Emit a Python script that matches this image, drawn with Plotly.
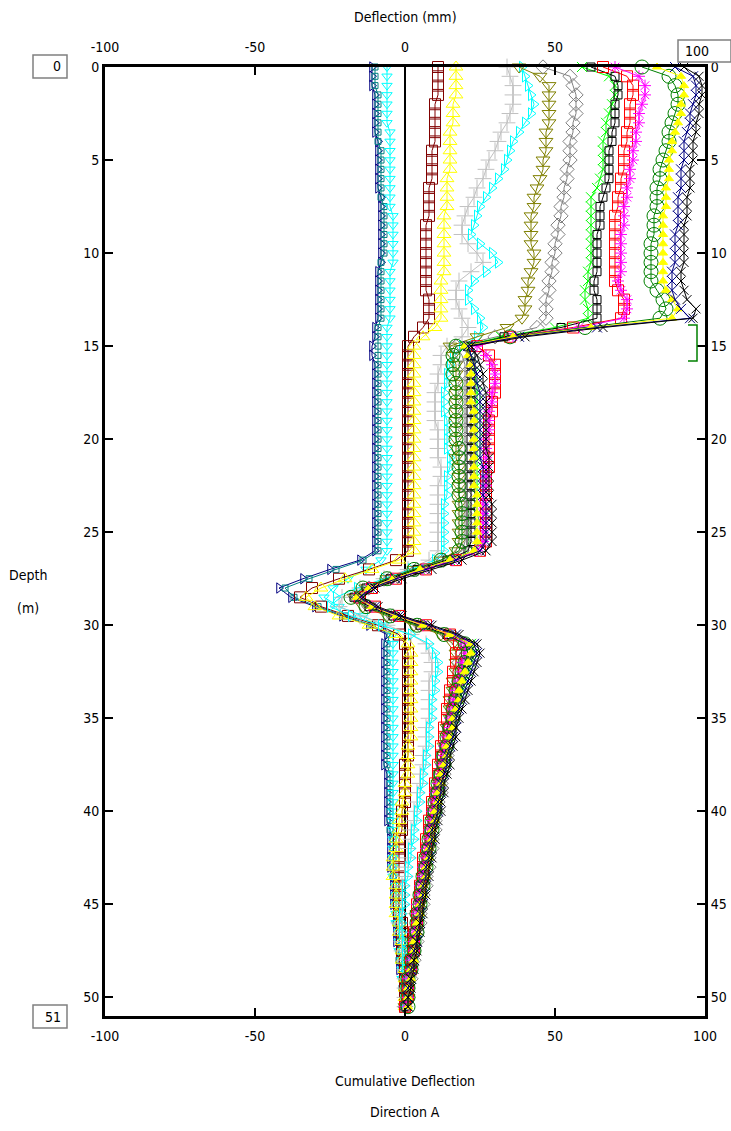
import plotly.graph_objects as go

# Depth stations (m), 0.5 m spacing from the collar down to 50.5 m
DEPTH = [i * 0.5 for i in range(102)]

# Cumulative deflection (mm) per survey, one value per depth station
NAVY_TRI = [-11,-11,-11,-10,-10,-10,-10,-10,-9,-9,
            -9,-9,-9,-9,-8,-8,-8,-8,-8,-8,
            -8,-8,-9,-9,-9,-9,-9,-9,-10,-10,
            -11,-11,-10,-10,-10,-10,-10,-10,-10,-10,
            -10,-10,-10,-10,-10,-10,-10,-10,-10,-10,
            -10,-10,-10,-15,-25,-34,-42,-38,-30,-21,
            -12,-6,-7,-7,-7,-7,-7,-7,-7,-7,
            -7,-7,-7,-7,-7,-7,-6,-6,-6,-6,
            -6,-6,-5,-5,-5,-5,-5,-4,-4,-4,
            -4,-3,-3,-3,-3,-2,-2,-2,-1,-1,
            -1,0]
TEAL_SQ = [-10,-10,-10,-9,-9,-9,-9,-9,-9,-8,
           -8,-8,-8,-8,-8,-7,-7,-7,-7,-7,
           -7,-8,-8,-8,-8,-8,-8,-8,-9,-9,
           -9,-9,-9,-9,-9,-9,-9,-9,-9,-9,
           -9,-9,-9,-9,-9,-9,-9,-9,-9,-9,
           -9,-9,-9,-14,-23,-32,-40,-37,-29,-20,
           -11,-5,-6,-6,-6,-6,-6,-6,-6,-6,
           -6,-6,-6,-6,-6,-6,-5,-5,-5,-5,
           -5,-5,-5,-4,-4,-4,-4,-4,-3,-3,
           -3,-3,-3,-2,-2,-2,-2,-1,-1,-1,
           0,0]
CYAN_L = [-6,-6,-6,-6,-6,-6,-6,-5,-5,-5,
          -5,-5,-5,-5,-5,-5,-4,-4,-4,-4,
          -4,-4,-5,-5,-5,-5,-5,-5,-6,-6,
          -6,-6,-6,-6,-6,-6,-6,-6,-6,-6,
          -6,-6,-6,-6,-6,-6,-6,-6,-6,-6,
          -6,-6,-6,-8,-13,-19,-24,-27,-22,-14,
          -7,-4,-4,-4,-4,-4,-4,-4,-4,-4,
          -4,-4,-4,-4,-4,-4,-4,-4,-4,-4,
          -4,-4,-4,-4,-4,-4,-4,-4,-3,-3,
          -3,-3,-3,-2,-2,-2,-1,-1,-1,0,
          0,0]
MAROON_SQ = [11,11,11,11,10,10,10,10,10,9,
             9,9,9,8,8,8,8,7,7,7,
             7,7,7,7,7,8,8,8,6,3,
             1,1,1,1,1,1,1,1,1,1,
             1,1,1,1,1,1,1,1,1,1,
             1,1,1,-3,-12,-22,-31,-35,-28,-19,
             -9,-2,0,1,1,1,1,1,1,1,
             1,1,1,1,1,0,0,0,0,0,
             -1,-1,-1,-2,-2,-2,-2,-2,-2,-2,
             -2,-2,-1,-1,-1,-1,0,0,0,0,
             0,0]
YELLOW_TRI = [17,17,17,17,16,16,16,15,15,15,
              15,15,14,14,14,14,13,13,13,13,
              13,13,13,12,12,12,12,12,10,6,
              3,3,3,3,3,3,3,3,3,3,
              3,3,3,3,3,3,3,3,3,3,
              3,3,3,-2,-11,-20,-28,-33,-30,-22,
              -12,-3,1,2,2,2,2,2,2,2,
              2,2,2,1,1,1,1,0,0,-1,
              -1,-2,-2,-3,-3,-4,-4,-4,-3,-3,
              -3,-3,-2,-2,-1,-1,-1,0,0,0,
              0,0]
SILVER_CROSS = [34,35,36,36,36,35,34,32,31,30,
                28,27,26,24,23,21,20,19,19,21,
                24,26,22,18,17,17,18,19,21,19,
                14,12,12,11,11,10,10,10,10,11,
                11,11,11,12,12,11,11,11,11,11,
                11,11,11,8,1,-7,-15,-21,-22,-15,
                -6,2,7,8,9,9,8,8,8,8,
                8,7,7,7,6,6,5,5,4,4,
                3,3,2,2,1,1,0,0,-1,-1,
                -1,-1,-2,-1,-1,-1,0,0,0,0,
                0,0]
CYAN_TRI = [39,40,41,42,43,42,40,38,36,35,
            34,33,31,29,27,25,24,23,22,25,
            29,31,27,23,21,21,23,25,26,24,
            19,16,15,14,14,13,13,13,14,14,
            14,14,15,15,14,14,14,13,13,13,
            13,13,13,10,2,-7,-16,-23,-25,-18,
            -8,2,8,10,11,11,10,10,9,9,
            9,8,8,8,7,7,6,6,5,5,
            4,4,3,3,2,2,1,1,0,0,
            0,-1,-1,-1,0,0,0,0,0,0,
            0,0]
OLIVE_TRI = [38,45,48,48,48,48,48,47,47,47,
             46,46,45,44,43,43,42,42,42,42,
             43,43,42,41,41,40,40,39,34,24,
             15,16,17,17,17,17,17,17,17,17,
             17,17,17,18,18,18,18,18,18,18,
             18,18,17,12,3,-6,-13,-17,-14,-6,
             3,12,16,17,17,17,16,16,15,15,
             15,14,14,13,13,12,12,11,11,10,
             10,9,9,8,8,7,7,6,6,5,
             5,4,4,3,3,3,2,2,1,1,
             1,0]
GRAY_DIA = [46,55,56,57,57,57,56,56,55,55,
            55,54,54,53,53,52,52,51,51,50,
            50,49,49,48,48,47,47,47,44,30,
            17,19,20,20,20,20,20,20,20,20,
            20,20,20,20,20,20,20,20,20,20,
            20,20,19,13,4,-5,-12,-16,-12,-4,
            5,14,18,19,18,18,18,17,17,16,
            16,15,15,14,14,13,13,12,12,11,
            11,10,10,9,9,8,8,7,7,6,
            6,5,5,4,4,3,3,2,2,1,
            1,0]
LIME_X = [59,68,70,70,69,68,67,67,66,66,
          66,66,65,64,62,62,62,62,62,62,
          62,62,61,61,60,60,61,61,50,32,
          20,22,23,23,24,24,24,24,24,24,
          24,24,24,24,24,24,24,24,24,25,
          25,25,23,15,5,-4,-12,-16,-11,-3,
          6,15,22,23,22,21,20,19,18,17,
          16,15,15,14,13,12,12,11,11,10,
          10,9,9,8,8,7,7,6,6,5,
          5,5,4,4,3,3,3,2,2,1,
          1,0]
BLACK_SQ = [62,70,71,71,70,70,70,69,69,68,
            68,68,68,67,66,65,65,65,64,64,
            64,64,64,63,63,64,64,64,52,33,
            21,22,22,22,22,22,22,22,22,22,
            22,22,22,22,22,22,22,22,22,22,
            22,22,21,14,4,-5,-13,-17,-12,-4,
            5,14,20,21,20,19,18,17,16,16,
            15,14,14,13,12,12,11,11,10,10,
            9,9,8,8,7,7,6,6,5,5,
            5,4,4,3,3,3,2,2,1,1,
            1,0]
RED_SQ = [66,74,76,76,75,75,75,74,74,73,
          73,73,72,72,71,71,70,70,70,70,
          70,70,70,70,71,73,73,72,56,35,
          24,28,30,30,30,30,29,29,28,28,
          28,28,28,28,27,27,27,27,27,27,
          27,27,25,17,7,-3,-11,-15,-10,-2,
          7,15,18,17,17,16,16,15,15,14,
          14,13,13,12,12,11,11,10,10,9,
          9,8,8,7,7,6,6,6,5,5,
          4,4,4,3,3,3,2,2,1,1,
          1,0]
MAGENTA_AST = [70,78,80,80,79,78,78,77,77,76,
               76,75,75,74,74,73,73,73,72,72,
               72,72,72,71,72,74,74,73,58,36,
               24,27,29,30,30,29,29,28,28,28,
               27,27,27,27,27,27,26,26,26,26,
               26,26,24,16,6,-4,-12,-16,-11,-3,
               6,15,20,20,19,19,18,17,16,16,
               15,15,14,13,13,12,12,11,10,10,
               9,9,8,8,7,7,6,6,5,5,
               4,4,4,3,3,3,2,2,1,1,
               1,0]
GREEN_CIR = [79,88,90,91,91,90,89,88,88,87,
             86,85,85,84,84,84,83,83,83,82,
             82,82,82,82,84,86,87,85,60,35,
             17,16,16,16,17,17,17,17,17,17,
             17,18,18,18,18,18,18,19,19,19,
             19,19,18,12,3,-6,-14,-18,-13,-5,
             4,13,20,21,20,19,18,17,17,16,
             16,15,14,14,13,13,12,11,11,10,
             10,9,9,8,8,7,7,6,6,5,
             5,4,4,4,3,3,2,2,1,1,
             1,1]
YELLOW_FILL = [84,92,93,93,92,92,91,90,89,89,
               88,88,88,87,87,87,86,86,86,86,
               86,86,86,86,87,89,91,89,62,36,
               20,21,22,22,22,22,22,23,23,23,
               23,23,23,23,23,23,24,24,24,24,
               24,24,23,15,5,-4,-12,-16,-11,-3,
               6,15,22,22,21,20,19,18,18,17,
               16,16,15,14,14,13,12,12,11,11,
               10,10,9,9,8,8,7,7,6,6,
               5,5,4,4,3,3,3,2,2,1,
               1,1]
NAVY_X = [90,96,97,97,96,95,95,94,93,93,
          93,92,92,92,91,91,91,91,90,90,
          90,90,89,89,89,90,92,95,64,38,
          21,22,23,24,24,25,25,25,25,25,
          25,25,25,26,26,26,26,27,27,27,
          27,27,25,17,7,-3,-11,-15,-10,-2,
          8,17,23,24,23,22,21,20,19,18,
          17,17,16,15,14,14,13,12,12,11,
          11,10,9,9,8,8,7,7,6,6,
          5,5,5,4,4,3,3,2,2,1,
          1,1]
BLACK_X = [93,98,99,99,98,98,97,97,96,96,
           96,95,95,95,94,94,94,93,93,93,
           93,93,92,92,93,94,97,96,66,40,
           22,24,25,26,26,27,27,27,27,27,
           27,27,28,28,28,28,28,29,29,29,
           29,29,27,19,9,-1,-10,-14,-9,-1,
           9,18,24,25,24,23,22,21,20,19,
           18,17,17,16,15,15,14,13,13,12,
           12,11,10,10,9,9,8,8,7,7,
           6,6,5,5,4,4,3,3,2,2,
           1,1]

# (values, colour, marker symbol, marker size), drawn in this order
SURVEYS = [
    (NAVY_TRI, "#000080", "triangle-right-open", 9),
    (TEAL_SQ, "#008080", "square-open", 6),
    (CYAN_L, "#00FFFF", "triangle-down-open", 9),
    (MAROON_SQ, "#800000", "square-open", 11),
    (YELLOW_TRI, "#FFFF00", "triangle-up-open", 12),
    (SILVER_CROSS, "#C0C0C0", "cross-thin-open", 12),
    (CYAN_TRI, "#00FFFF", "triangle-right-open", 10),
    (OLIVE_TRI, "#808000", "triangle-down-open", 12),
    (GRAY_DIA, "#808080", "diamond-open", 11),
    (LIME_X, "#00FF00", "x-thin-open", 10),
    (BLACK_SQ, "#000000", "square-open", 8),
    (RED_SQ, "#FF0000", "square-open", 11),
    (MAGENTA_AST, "#FF00FF", "asterisk-open", 10),
    (GREEN_CIR, "#008000", "circle-open", 14),
    (YELLOW_FILL, "#FFFF00", "triangle-up", 8),
    (NAVY_X, "#000080", "x-thin-open", 10),
    (BLACK_X, "#000000", "x-thin-open", 9),
]

FONT = "Liberation Sans Narrow, DejaVu Sans Condensed, Arial Narrow, sans-serif"
X_TICKS = [-100, -50, 0, 50, 100]
X_LABELS = ["-100", "-50", "0", "50", "100"]
X_TICKS_TOP = [-100, -50, 0, 50]
X_LABELS_TOP = ["-100", "-50", "0", "50"]
Y_TICKS = [0, 5, 10, 15, 20, 25, 30, 35, 40, 45, 50]

fig = go.Figure()
for vals, color, symbol, size in SURVEYS:
    fig.add_trace(go.Scatter(
        x=vals, y=DEPTH[:len(vals)], mode="lines+markers",
        line=dict(color=color, width=1),
        marker=dict(symbol=symbol, size=size, color=color,
                    line=dict(color=color, width=1)),
        showlegend=False, cliponaxis=False, hoverinfo="skip",
    ))

axis_common = dict(showgrid=False, ticks="inside", ticklen=8, tickwidth=2,
                   tickcolor="black", showline=True, linecolor="black",
                   linewidth=3, automargin=False,
                   tickfont=dict(family=FONT, size=14, color="black"))

fig.update_layout(
    width=731, height=1131,
    margin=dict(l=105, r=26, t=67, b=115),
    paper_bgcolor="white", plot_bgcolor="white",
    font=dict(family=FONT, size=14, color="black"),
    xaxis=dict(range=[-100, 100], tickvals=X_TICKS, ticktext=X_LABELS,
               zeroline=True, zerolinecolor="black", zerolinewidth=2,
               ticklabelstandoff=5, **axis_common),
    xaxis2=dict(range=[-100, 100], tickvals=X_TICKS_TOP, ticktext=X_LABELS_TOP,
                overlaying="x", side="top", anchor="y", zeroline=False,
                ticklabelstandoff=6, **axis_common),
    yaxis=dict(range=[51, 0], tickvals=Y_TICKS, zeroline=False, **axis_common),
    yaxis2=dict(range=[51, 0], tickvals=Y_TICKS, overlaying="y", side="right",
                anchor="x", zeroline=False, **axis_common),
)
# invisible trace so the secondary axes render
fig.add_trace(go.Scatter(x=[None], y=[None], xaxis="x2", yaxis="y2",
                         showlegend=False, hoverinfo="skip"))

def px(xp):
    return (xp - 105) / 600

def py(yp):
    return (1016 - yp) / 949

# input-style boxes for depth limits and deflection scale
for x0, x1, y0, y1, txt in [(33, 67, 55, 78, "0"), (33, 67, 1005, 1028, "51"),
                            (678, 731, 40, 62, "100")]:
    fig.add_shape(type="rect", xref="paper", yref="paper",
                  x0=px(x0), x1=px(x1), y0=py(y1), y1=py(y0),
                  line=dict(color="#808080", width=1.5), fillcolor="white",
                  layer="above")
    if txt == "100":
        fig.add_annotation(x=px(x0 + 5), y=py((y0 + y1) / 2), xref="paper",
                           yref="paper", text=txt, showarrow=False,
                           xanchor="left", yanchor="middle",
                           font=dict(family=FONT, size=14))
    else:
        fig.add_annotation(x=px(x1 - 4), y=py((y0 + y1) / 2), xref="paper",
                           yref="paper", text=txt, showarrow=False,
                           xanchor="right", yanchor="middle",
                           font=dict(family=FONT, size=14))

# depth-range bracket on the right edge
fig.add_shape(type="path", xref="paper", yref="paper",
              path=f"M {px(688)},{py(325)} L {px(697)},{py(325)} "
                   f"L {px(697)},{py(361)} L {px(688)},{py(361)}",
              line=dict(color="#008000", width=1.5), layer="above")

for txt, xp, yp in [("Deflection (mm)", 405, 17),
                    ("Cumulative Deflection", 405, 1081),
                    ("Direction A", 405, 1112),
                    ("Depth", 28, 575), ("(m)", 28, 608)]:
    fig.add_annotation(x=px(xp), y=py(yp), xref="paper", yref="paper",
                       text=txt, showarrow=False, xanchor="center",
                       yanchor="middle", font=dict(family=FONT, size=14))

fig.write_html("out.html")
